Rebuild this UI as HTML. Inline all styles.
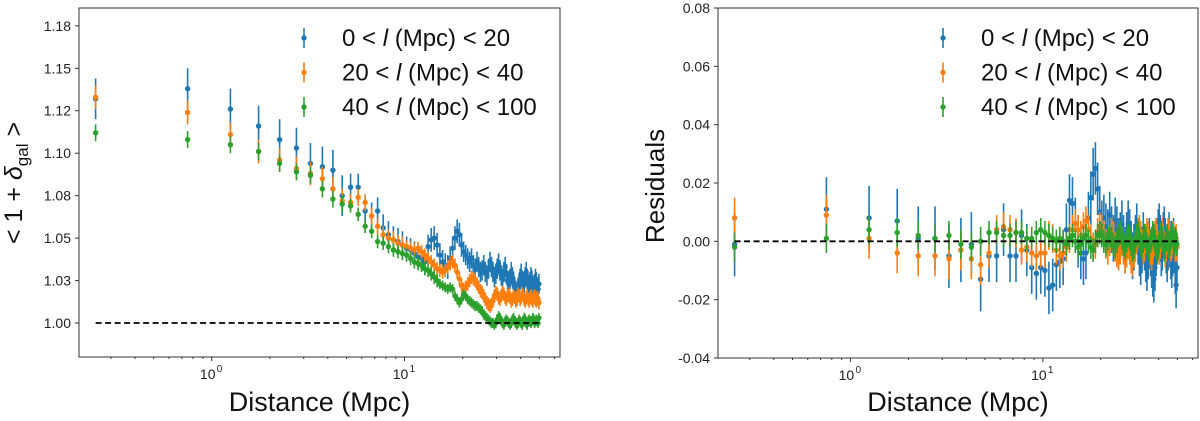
<!DOCTYPE html>
<html><head><meta charset="utf-8"><style>
html,body{margin:0;padding:0;background:#fff;width:1200px;height:421px;overflow:hidden}
svg{display:block}
text{font-family:"Liberation Sans","DejaVu Sans",sans-serif}
</style></head><body>
<svg id="chart" width="1200" height="421" viewBox="0 0 1200 421"></svg>
<script>
// Shared x categories (Mpc)
const xs = Array.from({length:100},(_,i)=>0.25+0.5*i);
// Left panel values
const leftBlue = [1.132,1.138,1.126,1.116,1.108,1.103,1.094,1.092,1.090,1.075,
1.080,1.080,1.066,1.063,1.066,1.056,1.052,1.049,1.048,1.046,
1.044,1.043,1.041,1.039,1.038,1.036,1.045,1.049,1.050,1.046,
1.040,1.036,1.034,1.033,1.038,1.044,1.050,1.054,1.052,1.046,
1.042,1.040,1.038,1.036,1.038,1.034,1.032,1.036,1.033,1.030,
1.031,1.034,1.030,1.028,1.032,1.036,1.033,1.030,1.027,1.029,
1.032,1.035,1.031,1.028,1.026,1.030,1.033,1.029,1.025,1.023,
1.026,1.030,1.027,1.024,1.021,1.019,1.016,1.020,1.023,1.026,
1.029,1.025,1.022,1.024,1.027,1.030,1.026,1.023,1.021,1.024,
1.027,1.025,1.022,1.020,1.023,1.026,1.024,1.021,1.020,1.023];
const leftOrange = [1.133,1.124,1.111,1.101,1.096,1.091,1.088,1.085,1.079,1.072,
1.071,1.074,1.071,1.063,1.057,1.052,1.050,1.049,1.047,1.046,
1.045,1.044,1.043,1.044,1.042,1.040,1.038,1.036,1.034,1.032,
1.031,1.030,1.031,1.033,1.035,1.036,1.034,1.030,1.026,1.022,
1.020,1.021,1.023,1.025,1.027,1.026,1.025,1.023,1.021,1.019,
1.018,1.016,1.014,1.012,1.011,1.010,1.011,1.013,1.016,1.018,
1.017,1.015,1.014,1.016,1.018,1.017,1.015,1.014,1.016,1.017,
1.015,1.013,1.014,1.016,1.015,1.013,1.015,1.017,1.016,1.014,
1.015,1.017,1.016,1.014,1.013,1.015,1.016,1.014,1.013,1.015,
1.016,1.014,1.013,1.015,1.016,1.014,1.013,1.015,1.014,1.012];
const leftGreen = [1.112,1.108,1.105,1.101,1.094,1.089,1.087,1.079,1.073,1.070,
1.069,1.064,1.057,1.054,1.048,1.047,1.045,1.043,1.042,1.041,
1.040,1.038,1.036,1.035,1.034,1.032,1.031,1.029,1.027,1.025,
1.023,1.022,1.021,1.020,1.021,1.020,1.016,1.014,1.012,1.014,
1.017,1.016,1.014,1.013,1.012,1.011,1.010,1.010,1.009,1.008,
1.007,1.005,1.004,1.003,1.002,1.001,1.000,1.000,0.999,1.000,
1.002,1.004,1.003,1.001,1.000,0.999,1.001,1.002,1.001,1.000,
0.999,1.000,1.002,1.003,1.001,1.000,0.999,1.000,1.002,1.001,
1.000,0.999,1.001,1.003,1.002,1.000,0.999,1.001,1.002,1.001,
1.000,1.001,1.003,1.002,1.000,1.001,1.002,1.001,1.000,1.003];
// Right panel residuals
const resBlue = [-0.001,0.011,0.008,0.007,0.001,0.001,-0.005,-0.003,-0.001,-0.013,
-0.005,-0.005,0.004,-0.005,-0.005,0.002,-0.003,-0.009,-0.011,-0.009,
-0.010,-0.016,-0.015,-0.008,-0.007,-0.006,0.004,0.014,0.013,0.006,
0.000,-0.004,-0.006,-0.004,0.008,0.015,0.023,0.025,0.018,0.010,
0.006,0.008,0.005,0.003,0.009,0.004,0.001,0.007,0.004,0.000,
0.002,0.006,0.001,-0.003,0.002,0.006,0.003,-0.001,-0.005,-0.002,
0.001,0.005,0.000,-0.004,-0.007,-0.003,0.002,-0.002,-0.006,-0.009,
-0.005,0.000,-0.004,-0.008,-0.011,-0.013,-0.009,-0.004,0.000,0.003,
0.005,0.001,-0.004,-0.002,0.002,0.004,0.000,-0.003,-0.006,-0.002,
0.002,-0.001,-0.005,-0.008,-0.004,0.000,-0.003,-0.010,-0.015,-0.009];
const resOrange = [0.008,0.009,0.001,-0.004,-0.005,-0.005,-0.006,-0.003,-0.006,-0.008,
-0.004,0.004,0.005,0.004,0.003,-0.003,-0.002,-0.004,-0.005,-0.004,
-0.004,0.002,0.001,-0.003,-0.005,-0.004,-0.002,0.001,0.004,0.006,
0.004,0.002,0.005,0.007,0.004,0.001,-0.002,-0.001,0.003,0.005,
0.004,0.002,-0.001,-0.003,0.000,0.003,0.002,-0.002,-0.004,-0.005,
-0.003,0.000,-0.003,-0.006,-0.004,-0.001,-0.003,-0.006,-0.007,-0.004,
-0.002,0.001,0.003,0.004,0.002,-0.001,-0.003,-0.002,0.001,0.003,
0.002,-0.001,-0.003,-0.005,-0.003,0.000,0.002,0.003,0.001,-0.002,
-0.003,-0.001,0.002,0.003,0.001,-0.002,-0.004,-0.002,0.001,0.003,
0.002,0.000,-0.002,-0.001,0.001,0.002,0.000,-0.002,0.001,-0.002];
const resGreen = [-0.002,0.001,0.004,0.003,0.002,0.001,0.002,-0.001,-0.002,0.000,
0.003,0.003,0.002,0.002,0.003,0.003,0.001,0.001,0.003,0.004,
0.003,0.002,0.001,0.000,0.001,0.000,-0.001,0.001,0.002,0.000,
-0.002,-0.001,0.001,0.002,0.000,-0.002,-0.003,0.000,0.002,0.003,
0.002,0.000,-0.001,0.001,0.002,0.001,-0.001,-0.002,0.000,0.002,
0.003,0.001,-0.001,-0.002,0.000,0.002,0.001,-0.001,-0.003,-0.002,
0.000,0.002,0.003,0.001,-0.001,-0.002,0.000,0.002,0.001,-0.001,
-0.003,-0.002,0.000,0.001,0.003,0.002,0.000,-0.002,-0.004,-0.002,
0.000,0.002,0.003,0.001,-0.001,-0.003,-0.002,0.001,0.002,0.000,
-0.002,-0.001,0.001,0.003,0.002,0.000,-0.001,0.001,0.000,-0.001];
// Error magnitudes per group of 10 points
const errLeftBlue = [0.012,0.008,0.007,0.007,0.006,0.006,0.006,0.006,0.006,0.006];
const errLeftOrange = [0.007,0.005,0.004,0.004,0.004,0.004,0.004,0.004,0.004,0.004];
const errLeftGreen = [0.005,0.004,0.004,0.003,0.003,0.003,0.003,0.003,0.003,0.003];
const errResBlue = [0.011,0.009,0.009,0.009,0.008,0.008,0.008,0.008,0.008,0.008];
const errResOrange = [0.007,0.005,0.005,0.005,0.005,0.005,0.005,0.005,0.005,0.005];
const errResGreen = [0.005,0.004,0.004,0.004,0.004,0.004,0.004,0.004,0.004,0.004];
const leftTicks = [1.00,1.025,1.05,1.075,1.10,1.125,1.15,1.175];
const leftTickLabels = ["1.00","1.03","1.05","1.08","1.10","1.12","1.15","1.18"];
const resTicks = [-0.04,-0.02,0,0.02,0.04,0.06,0.08];
const resTickLabels = ["-0.04","-0.02","0.00","0.02","0.04","0.06","0.08"];
const legendLabels = ["0 < ","20 < ","40 < "];
const legendTails = [" (Mpc) < 20"," (Mpc) < 40"," (Mpc) < 100"];
const colors = ["#1f77b4","#ff7f0e","#2ca02c"];

const NS="http://www.w3.org/2000/svg";
const svg=document.getElementById('chart');
function mk(tag,attrs,parent){const e=document.createElementNS(NS,tag);for(const k in attrs)e.setAttribute(k,attrs[k]);(parent||svg).appendChild(e);return e;}

function panel(cfg){
  const g=mk('g',{});
  
  
  const {x0,x1,y0,y1,xmin,xmax,ymin,ymax}=cfg;
  const sx=v=>x0+(Math.log10(v)-Math.log10(xmin))/(Math.log10(xmax)-Math.log10(xmin))*(x1-x0);
  const sy=v=>y1-(v-ymin)/(ymax-ymin)*(y1-y0);
  cfg.series.forEach((s,si)=>{
    const sg=mk('g',{},g);
    
    
    s.vals.forEach((v,i)=>{
      const x=sx(xs[i]),e=s.err[Math.floor(i/10)];
      mk('line',{x1:x,x2:x,y1:sy(v-e),y2:sy(v+e),stroke:colors[si],'stroke-width':1.6},sg);
      const c=mk('circle',{cx:x,cy:sy(v),r:2.7,fill:colors[si]},sg);
      
      
    });
  });
  const dl=mk('line',{x1:sx(xs[0]),x2:sx(xs[99]),y1:sy(cfg.ref),y2:sy(cfg.ref),stroke:'#000','stroke-width':1.8,'stroke-dasharray':'6,3.5'},g);
  
  
  const fr=mk('rect',{x:x0,y:y0,width:x1-x0,height:y1-y0,fill:'none',stroke:'#333','stroke-width':1},g);
  
  
  cfg.yt.forEach((t,i)=>{
    const y=sy(t);
    mk('line',{x1:x0-4,x2:x0,y1:y,y2:y,stroke:'#333'},g);
    const tx=mk('text',{x:x0-8,y:y+5,'text-anchor':'end','font-size':14,fill:'#222'},g);
    tx.textContent=cfg.ytl[i];
    
    
  });
  for(let d=-1;d<=1;d++){for(let m=1;m<10;m++){const v=m*Math.pow(10,d);if(v<xmin||v>xmax)continue;const x=sx(v);
    mk('line',{x1:x,x2:x,y1:y1,y2:y1+(m===1?4:2),stroke:'#333'},g);
    if(m===1){const tx=mk('text',{x:x-4,y:y1+22,'text-anchor':'middle','font-size':14,fill:'#222'},g);
      tx.textContent='10';
      
      
      const sp=mk('text',{x:x+5,y:y1+15,'font-size':10,fill:'#222'},g);sp.textContent=String(d);}
  }}
  const xl=mk('text',{x:(x0+x1)/2,y:411,'text-anchor':'middle','font-size':27,fill:'#111'},g);
  xl.textContent='Distance (Mpc)';
  
  
  const yl=mk('text',{x:0,y:0,'text-anchor':'middle','font-size':cfg.ylfs,fill:'#111',transform:`translate(${cfg.ylx},${cfg.ylc}) rotate(-90)`},g);
  if(cfg.ylabelHTML){yl.innerHTML=cfg.ylabelHTML;}else yl.textContent=cfg.ylabel;
  
  
  legendLabels.forEach((l,i)=>{
    const ly=cfg.legY+i*34.5;
    const lg=mk('g',{},g);
    
    
    mk('line',{x1:cfg.legX,x2:cfg.legX,y1:ly-10,y2:ly+10,stroke:colors[i],'stroke-width':1.6},lg);
    mk('circle',{cx:cfg.legX,cy:ly,r:2.7,fill:colors[i]},lg);
    const t=mk('text',{x:cfg.legX+38,y:ly+8,'font-size':24,fill:'#111'},lg);
    t.innerHTML=l+'<tspan font-style="italic">l</tspan>'+legendTails[i];
  });
}

panel({name:'left-panel',prefix:'left',x0:79,x1:560,y0:8,y1:357,xmin:0.205,xmax:64,ymin:0.98,ymax:1.1855,
  series:[{vals:leftBlue,err:errLeftBlue},{vals:leftOrange,err:errLeftOrange},{vals:leftGreen,err:errLeftGreen}],
  ref:1.0,yt:leftTicks,ytl:leftTickLabels,ylx:22,ylc:183,ylfs:25,
  ylabelHTML:'&lt; 1 + <tspan font-style="italic">δ</tspan><tspan font-size="17" dy="6">gal</tspan><tspan dy="-6"> &gt;</tspan>',
  legX:304,legY:38});
panel({name:'right-panel',prefix:'right',x0:718,x1:1198,y0:8,y1:358,xmin:0.205,xmax:64,ymin:-0.04,ymax:0.08,
  series:[{vals:resBlue,err:errResBlue},{vals:resOrange,err:errResOrange},{vals:resGreen,err:errResGreen}],
  ref:0,yt:resTicks,ytl:resTickLabels,ylx:664,ylc:186,ylfs:26,ylabel:'Residuals',legX:943,legY:38});
</script>
</body></html>
